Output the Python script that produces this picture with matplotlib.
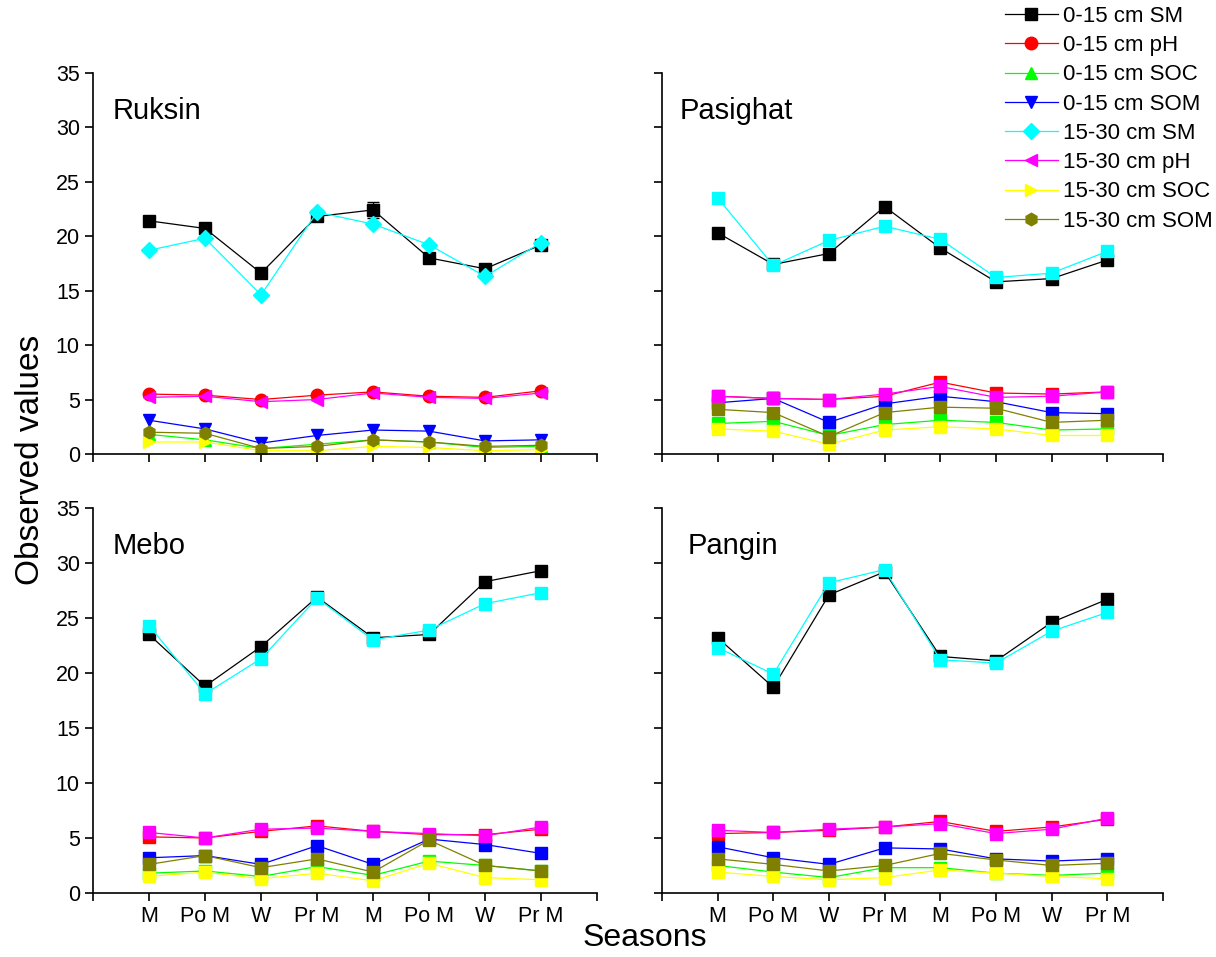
import matplotlib.pyplot as plt

plt.rcParams['font.family'] = ['Liberation Sans', 'DejaVu Sans']

seasons = ['M', 'Po M', 'W', 'Pr M', 'M', 'Po M', 'W', 'Pr M']
labels = ['0-15 cm SM', '0-15 cm pH', '0-15 cm SOC', '0-15 cm SOM',
          '15-30 cm SM', '15-30 cm pH', '15-30 cm SOC', '15-30 cm SOM']
colors = ['black', 'red', '#00ff00', 'blue', 'cyan', 'magenta', 'yellow', '#808000']
ruksin_markers = ['s', 'o', '^', 'v', 'D', '<', '>', 'h']

# Ruksin
ruksin_sm1 = [21.4, 20.7, 16.6, 21.8, 22.4, 18.0, 17.0, 19.2]
ruksin_sm1_err = [0.2, 0.2, 0.2, 0.2, 0.7, 0.4, 0.2, 0.2]
ruksin_ph1 = [5.5, 5.4, 5.0, 5.4, 5.7, 5.3, 5.2, 5.8]
ruksin_soc1 = [1.8, 1.3, 0.5, 0.9, 1.3, 1.1, 0.6, 0.7]
ruksin_som1 = [3.1, 2.3, 1.0, 1.7, 2.2, 2.1, 1.2, 1.3]
ruksin_sm2 = [18.7, 19.8, 14.6, 22.2, 21.1, 19.2, 16.3, 19.4]
ruksin_ph2 = [5.2, 5.3, 4.8, 5.0, 5.6, 5.2, 5.1, 5.6]
ruksin_soc2 = [1.1, 1.1, 0.3, 0.3, 0.7, 0.6, 0.3, 0.4]
ruksin_som2 = [2.0, 1.9, 0.5, 0.7, 1.3, 1.1, 0.7, 0.8]

# Pasighat
pasighat_sm1 = [20.3, 17.4, 18.4, 22.7, 18.9, 15.8, 16.1, 17.8]
pasighat_ph1 = [5.3, 5.1, 5.0, 5.3, 6.6, 5.6, 5.5, 5.7]
pasighat_soc1 = [2.8, 3.0, 1.7, 2.7, 3.1, 2.9, 2.2, 2.3]
pasighat_som1 = [4.7, 5.1, 2.9, 4.6, 5.3, 4.8, 3.8, 3.7]
pasighat_sm2 = [23.5, 17.3, 19.6, 20.9, 19.7, 16.2, 16.6, 18.6]
pasighat_ph2 = [5.3, 5.1, 5.0, 5.5, 6.2, 5.2, 5.3, 5.7]
pasighat_soc2 = [2.3, 2.1, 0.9, 2.2, 2.5, 2.3, 1.7, 1.7]
pasighat_som2 = [4.1, 3.8, 1.6, 3.8, 4.3, 4.2, 2.9, 3.1]

# Mebo
mebo_sm1 = [23.5, 18.8, 22.4, 26.9, 23.2, 23.5, 28.3, 29.3]
mebo_ph1 = [5.1, 5.0, 5.6, 6.1, 5.6, 5.3, 5.3, 5.8]
mebo_soc1 = [1.8, 2.0, 1.5, 2.4, 1.6, 2.9, 2.5, 2.0]
mebo_som1 = [3.2, 3.4, 2.6, 4.3, 2.6, 4.9, 4.4, 3.6]
mebo_sm2 = [24.3, 18.1, 21.3, 26.8, 23.0, 23.9, 26.3, 27.3]
mebo_sm2_err = [0.2, 0.2, 0.5, 0.2, 0.2, 0.2, 0.2, 0.2]
mebo_ph2 = [5.5, 5.0, 5.8, 5.9, 5.6, 5.4, 5.2, 6.0]
mebo_soc2 = [1.5, 1.9, 1.3, 1.8, 1.1, 2.7, 1.4, 1.2]
mebo_som2 = [2.6, 3.4, 2.3, 3.1, 1.9, 4.8, 2.5, 2.0]

# Pangin
pangin_sm1 = [23.2, 18.7, 27.1, 29.2, 21.5, 21.1, 24.6, 26.7]
pangin_ph1 = [5.4, 5.5, 5.7, 6.0, 6.5, 5.6, 6.0, 6.7]
pangin_soc1 = [2.5, 1.9, 1.4, 2.3, 2.3, 1.8, 1.6, 1.8]
pangin_som1 = [4.2, 3.2, 2.6, 4.1, 4.0, 3.1, 2.9, 3.1]
pangin_sm2 = [22.3, 19.9, 28.2, 29.4, 21.2, 20.9, 23.8, 25.5]
pangin_ph2 = [5.7, 5.5, 5.8, 6.0, 6.3, 5.4, 5.8, 6.8]
pangin_soc2 = [1.9, 1.5, 1.2, 1.4, 2.1, 1.8, 1.5, 1.3]
pangin_som2 = [3.1, 2.6, 2.0, 2.5, 3.6, 3.0, 2.5, 2.7]

sites = [
    ('Ruksin', [ruksin_sm1, ruksin_ph1, ruksin_soc1, ruksin_som1,
                ruksin_sm2, ruksin_ph2, ruksin_soc2, ruksin_som2],
     {0: ruksin_sm1_err}, ruksin_markers, 0.038),
    ('Pasighat', [pasighat_sm1, pasighat_ph1, pasighat_soc1, pasighat_som1,
                  pasighat_sm2, pasighat_ph2, pasighat_soc2, pasighat_som2],
     {}, ['s'] * 8, 0.036),
    ('Mebo', [mebo_sm1, mebo_ph1, mebo_soc1, mebo_som1,
              mebo_sm2, mebo_ph2, mebo_soc2, mebo_som2],
     {4: mebo_sm2_err}, ['s'] * 8, 0.038),
    ('Pangin', [pangin_sm1, pangin_ph1, pangin_soc1, pangin_som1,
                pangin_sm2, pangin_ph2, pangin_soc2, pangin_som2],
     {}, ['s'] * 8, 0.052),
]

fig = plt.figure(figsize=(12.16, 9.57), dpi=100)
rects = [(0.0765, 0.5256, 0.4145, 0.3985), (0.5444, 0.5256, 0.412, 0.3985),
         (0.0765, 0.0669, 0.4145, 0.4023), (0.5444, 0.0669, 0.412, 0.4023)]
x = list(range(1, len(seasons) + 1))

handles = []
for i, (name, series, errs, markers, tx) in enumerate(sites):
    ax = fig.add_axes(rects[i])
    for j, vals in enumerate(series):
        ms = 9 if markers[j] != 's' else 8
        if markers[j] == 'D':
            ms = 8
        line, = ax.plot(x, vals, color=colors[j], lw=0.9, marker=markers[j],
                        ms=ms, label=labels[j])
        if j in errs:
            ax.errorbar(x, vals, yerr=errs[j], fmt='none', ecolor=colors[j],
                        elinewidth=0.9, capsize=4)
        if i == 0:
            handles.append(line)
    ax.set_xlim(0, 9)
    ax.set_ylim(0, 35)
    ax.set_xticks(range(0, 10))
    ax.set_yticks(range(0, 36, 5))
    if i >= 2:
        ax.set_xticklabels([''] + seasons + [''])
    else:
        ax.set_xticklabels([])
    if i % 2 == 1:
        ax.set_yticklabels([])
    ax.spines['top'].set_visible(False)
    ax.spines['right'].set_visible(False)
    for s in ['left', 'bottom']:
        ax.spines[s].set_linewidth(1.2)
    ax.tick_params(direction='out', length=6, width=1.2, labelsize=15.5)
    ax.text(tx, 0.90, name, transform=ax.transAxes, fontsize=21, va='center')

fig.text(0.025, 0.519, 'Observed values', rotation=90, fontsize=24,
         ha='center', va='center')
fig.text(0.53, 0.004, 'Seasons', fontsize=23, ha='center', va='bottom')

fig.legend(handles, labels, loc='upper left', bbox_to_anchor=(0.819, 1.003),
           frameon=False, fontsize=16, handlelength=2.4, handletextpad=0.23,
           labelspacing=0.37, borderaxespad=0)

fig.savefig('out.png', dpi=100)
